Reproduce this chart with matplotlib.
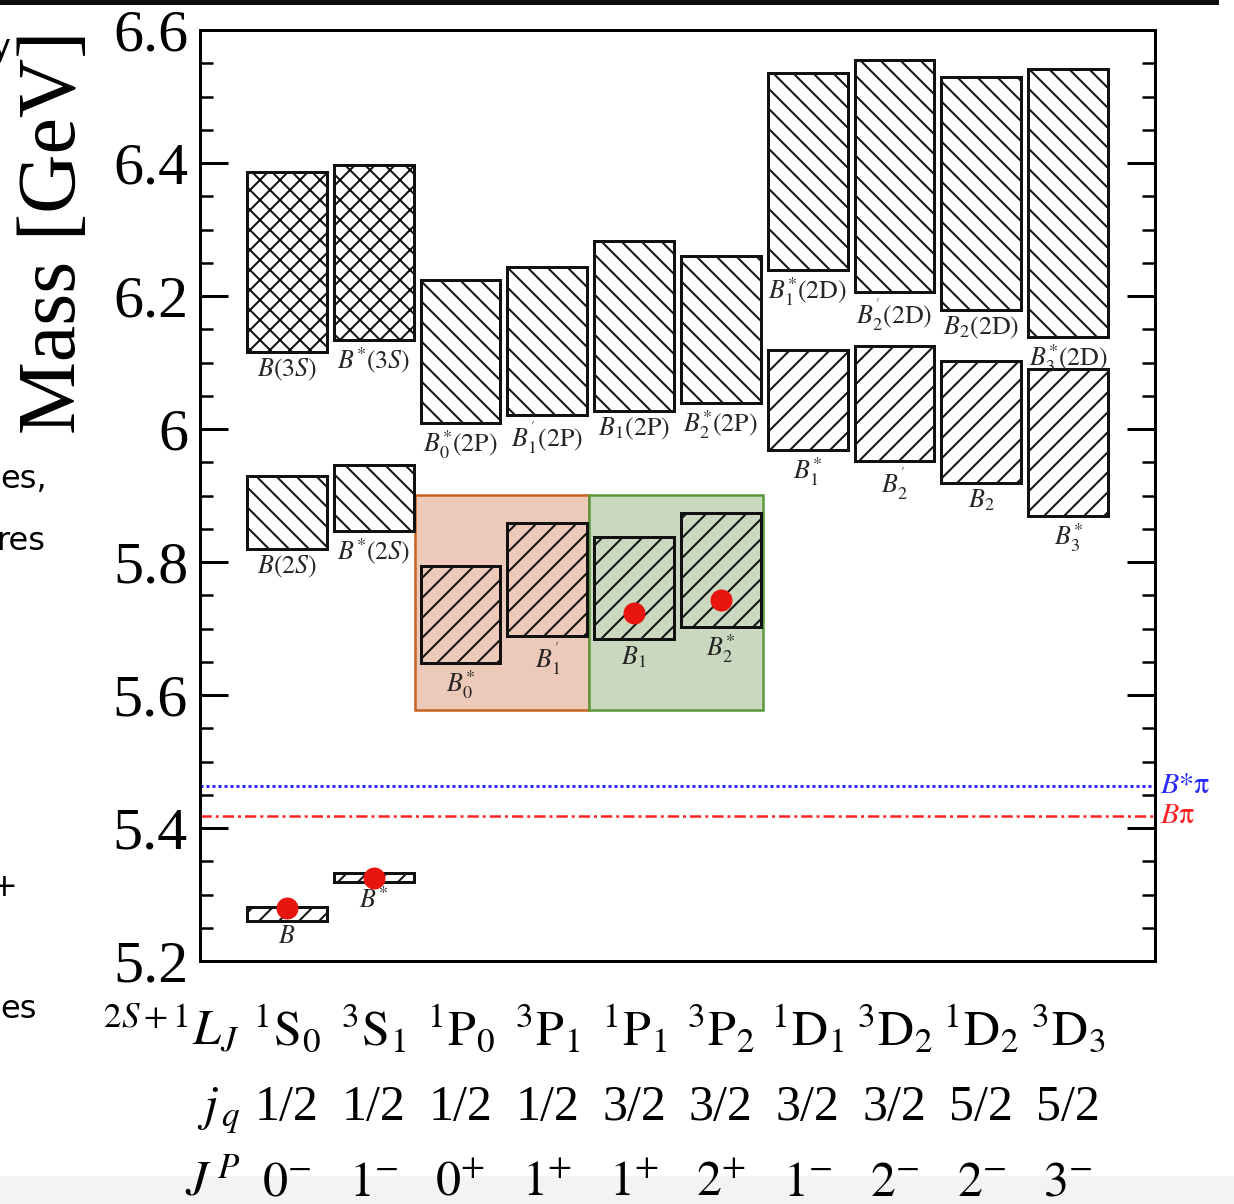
import matplotlib
matplotlib.use('Agg')
import matplotlib.pyplot as plt
from matplotlib.patches import Rectangle
from matplotlib import transforms

DPI = 60


def pt(px):
    # sizes below are thought of in output pixels
    return px * 72 / DPI


plt.rcParams['font.family'] = 'serif'
plt.rcParams['font.serif'] = ['Liberation Serif', 'DejaVu Serif']
plt.rcParams['mathtext.fontset'] = 'stix'
plt.rcParams['hatch.linewidth'] = pt(2.0)

# quantum numbers for each column
LJ = [r'$^{1}\mathrm{S}_{0}$', r'$^{3}\mathrm{S}_{1}$', r'$^{1}\mathrm{P}_{0}$', r'$^{3}\mathrm{P}_{1}$',
      r'$^{1}\mathrm{P}_{1}$', r'$^{3}\mathrm{P}_{2}$', r'$^{1}\mathrm{D}_{1}$', r'$^{3}\mathrm{D}_{2}$',
      r'$^{1}\mathrm{D}_{2}$', r'$^{3}\mathrm{D}_{3}$']
jq = ['1/2', '1/2', '1/2', '1/2', '3/2', '3/2', '3/2', '3/2', '5/2', '5/2']
JP = [r'$0^{-}$', r'$1^{-}$', r'$0^{+}$', r'$1^{+}$', r'$1^{+}$', r'$2^{+}$',
      r'$1^{-}$', r'$2^{-}$', r'$2^{-}$', r'$3^{-}$']

# predicted mass ranges (GeV)
gs_cols = [1, 2]
gs_lo = [5.260, 5.319]
gs_hi = [5.281, 5.332]
gs_names = [r'$B$', r'$B^{*}$']

s2_cols = [1, 2]
s2_lo = [5.820, 5.847]
s2_hi = [5.929, 5.946]
s2_names = [r'$B(2S)$', r'$B^{*}(2S)$']

s3_cols = [1, 2]
s3_lo = [6.116, 6.134]
s3_hi = [6.386, 6.397]
s3_names = [r'$B(3S)$', r'$B^{*}(3S)$']

p1_cols = [3, 4, 5, 6]
p1_lo = [5.648, 5.689, 5.684, 5.702]
p1_hi = [5.794, 5.859, 5.838, 5.874]
p1_names = [r'$B_0^{*}$', r"$B_1^{'}$", r'$B_1$', r'$B_2^{*}$']

p2_cols = [3, 4, 5, 6]
p2_lo = [6.009, 6.021, 6.027, 6.039]
p2_hi = [6.224, 6.244, 6.283, 6.260]
p2_names = [r'$B_0^{*}(2\mathrm{P})$', r"$B_1^{'}(2\mathrm{P})$", r'$B_1(2\mathrm{P})$', r'$B_2^{*}(2\mathrm{P})$']

d1_cols = [7, 8, 9, 10]
d1_lo = [5.968, 5.952, 5.919, 5.869]
d1_hi = [6.119, 6.125, 6.102, 6.090]
d1_names = [r'$B_1^{*}$', r"$B_2^{'}$", r'$B_2$', r'$B_3^{*}$']

d2_cols = [7, 8, 9, 10]
d2_lo = [6.239, 6.206, 6.179, 6.138]
d2_hi = [6.535, 6.555, 6.529, 6.541]
d2_names = [r'$B_1^{*}(2\mathrm{D})$', r"$B_2^{'}(2\mathrm{D})$", r'$B_2(2\mathrm{D})$', r'$B_3^{*}(2\mathrm{D})$']

# measured masses
exp_cols = [1, 2, 5, 6]
exp_mass = [5.279, 5.325, 5.723, 5.743]

# open-flavour thresholds
thr_names = [r'$B{*}\mathrm{\pi}$', r'$B\mathrm{\pi}$']
thr_mass = [5.463, 5.418]

# j=1/2 and j=3/2 doublets
band_first = [3, 5]
band_last = [4, 6]
band_lo = [5.577, 5.577]
band_hi = [5.901, 5.901]

W, H = 1234, 1204
fig = plt.figure(figsize=(W / DPI, H / DPI), dpi=DPI)


def fx(px):
    return px / W


def fy(py):
    return 1 - py / H


# page bits around the plot
fig.patches.append(Rectangle((0, 0), 1, fy(1176), transform=fig.transFigure,
                             facecolor='#f3f3f3', edgecolor='none', zorder=-5))
fig.patches.append(Rectangle((0, fy(5)), fx(1219), fy(0) - fy(5), transform=fig.transFigure,
                             facecolor='#0c0c0c', edgecolor='none', zorder=-5))
side = [('y', -9, 48), ('es,', 0, 480), ('res', -4, 542), ('o', -20, 597), ('+', -9, 888), ('es', 0, 1010)]
for s, px, py in side:
    fig.text(fx(px), fy(py), s, fontsize=pt(32), family='DejaVu Sans', ha='left', va='center')

ax = fig.add_axes([fx(200), fy(961), fx(955), 931 / H])
ax.set_xlim(0, 11)
ax.set_ylim(5.2, 6.6)
ax.set_xticks([])
ax.set_yticks([5.2, 5.4, 5.6, 5.8, 6.0, 6.2, 6.4, 6.6])
ax.set_yticklabels(['5.2', '5.4', '5.6', '5.8', '6', '6.2', '6.4', '6.6'])
ax.set_yticks([5.2 + 0.05 * i for i in range(29)], minor=True)
ax.tick_params(axis='y', which='major', direction='in', length=pt(28), width=pt(3),
               right=True, labelsize=pt(60), pad=pt(12))
ax.tick_params(axis='y', which='minor', direction='in', length=pt(13), width=pt(2.5), right=True)
for sp in ax.spines.values():
    sp.set_linewidth(pt(3))

BOX_W = 0.92

# coloured doublet regions
band_face = ['#ecc9b8', '#c9d8bf']
band_edge = ['#c8621f', '#5a993a']
for a, b, lo, hi, fc, ec in zip(band_first, band_last, band_lo, band_hi, band_face, band_edge):
    ax.add_patch(Rectangle((a - 0.52, lo), b - a + 1.0, hi - lo, facecolor=fc,
                           edgecolor=ec, lw=pt(2.5), zorder=1))


def draw_boxes(cols, lo, hi, names, hatch):
    for c, a, b, lab in zip(cols, lo, hi, names):
        ax.add_patch(Rectangle((c - BOX_W / 2, a), BOX_W, b - a, facecolor='none',
                               edgecolor='#111111', hatch=hatch, lw=pt(3), zorder=3))
        ax.annotate(lab, (c, a), xytext=(0, -pt(5)), textcoords='offset points',
                    ha='center', va='top', fontsize=pt(26), color='#262626', zorder=4)


draw_boxes(gs_cols, gs_lo, gs_hi, gs_names, '/')
draw_boxes(s2_cols, s2_lo, s2_hi, s2_names, '\\')
draw_boxes(s3_cols, s3_lo, s3_hi, s3_names, 'x')
draw_boxes(p1_cols, p1_lo, p1_hi, p1_names, '/')
draw_boxes(p2_cols, p2_lo, p2_hi, p2_names, '\\')
draw_boxes(d1_cols, d1_lo, d1_hi, d1_names, '/')
draw_boxes(d2_cols, d2_lo, d2_hi, d2_names, '\\')

ax.plot(exp_cols, exp_mass, 'o', color='#e8150e', markersize=pt(22), markeredgewidth=0, zorder=5)

thr_col = ['#2a2aff', '#ff2222']
thr_ls = [(0, (1, 1)), (0, (4.5, 1.6, 1.2, 1.6))]
thr_lw = [pt(3), pt(2.5)]
for name, m, c, ls, lw in zip(thr_names, thr_mass, thr_col, thr_ls, thr_lw):
    ax.axhline(m, color=c, ls=ls, lw=lw, zorder=2)
    ax.text(1.005, m, name, color=c, fontsize=pt(30), ha='left', va='center',
            transform=ax.get_yaxis_transform(), clip_on=False)

fig.text(fx(55), fy(232), 'Mass [GeV]', rotation=90, ha='center', va='center', fontsize=pt(82))

# quantum number rows under the columns
tr = transforms.blended_transform_factory(ax.transData, fig.transFigure)
cols = list(range(1, 11))
rows = [(LJ, r'$^{2S+1}L_J$', 1045), (jq, r'$j_{\,q}$', 1120), (JP, r'$J^{\,P}$', 1196)]
for labels, head, base in rows:
    fig.text(fx(240), fy(base), head, fontsize=pt(50), ha='right', va='baseline')
    for c, lab in zip(cols, labels):
        ax.text(c, fy(base), lab, transform=tr, fontsize=pt(50), ha='center', va='baseline',
                clip_on=False)

fig.savefig('out.png', dpi=DPI)
